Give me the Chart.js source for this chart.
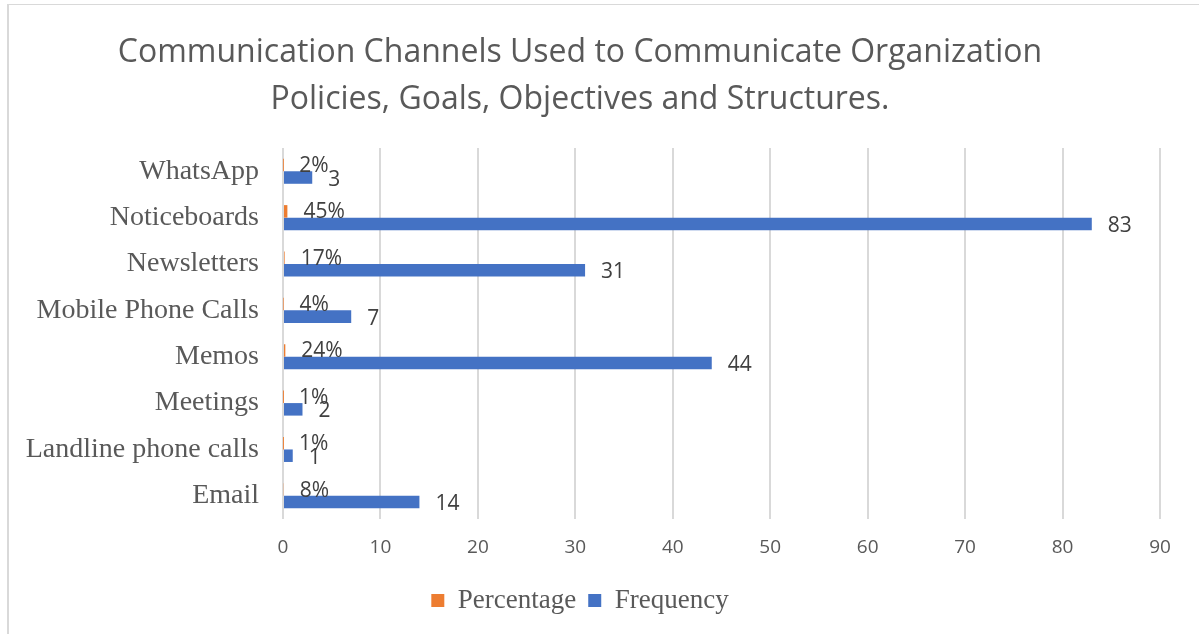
<!DOCTYPE html>
<html>
<head>
<meta charset="utf-8">
<script src="https://cdn.jsdelivr.net/npm/chart.js@4"></script>
<style>
  html, body { margin: 0; padding: 0; background: #fff; }
  #wrap { width: 1199px; height: 634px; position: relative; }
</style>
</head>
<body>
<div id="wrap"><canvas id="chart"></canvas></div>
<script>
// data (top row first)
const channels = ['WhatsApp', 'Noticeboards', 'Newsletters', 'Mobile Phone Calls', 'Memos', 'Meetings', 'Landline phone calls', 'Email'];
const percentage = [0.02, 0.45, 0.17, 0.04, 0.24, 0.01, 0.01, 0.08];
const frequency = [3, 83, 31, 7, 44, 2, 1, 14];
const xTicks = [0, 10, 20, 30, 40, 50, 60, 70, 80, 90];

const textGrey = '#595959';

// border of the chart box
const frame = {
    id: 'frame',
    beforeDraw(chart) {
        let ctx = chart.ctx;
        ctx.save();
        ctx.strokeStyle = '#d9d9d9';
        ctx.lineWidth = 1;
        ctx.beginPath();
        ctx.moveTo(7, 4.5);
        ctx.lineTo(chart.width, 4.5);
        ctx.stroke();
        ctx.lineWidth = 2;
        ctx.beginPath();
        ctx.moveTo(8, 4);
        ctx.lineTo(8, chart.height);
        ctx.stroke();
        ctx.restore();
    }
};

// value labels at the end of each bar
const barLabels = {
    id: 'barLabels',
    afterDatasetsDraw(chart) {
        let ctx = chart.ctx;
        ctx.save();
        ctx.font = '21px "Open Sans"';
        ctx.fillStyle = '#404040';
        ctx.textAlign = 'left';
        ctx.textBaseline = 'middle';
        chart.data.datasets.forEach((ds, i) => {
            let meta = chart.getDatasetMeta(i);
            meta.data.forEach((bar, j) => {
                let v = ds.data[j];
                let txt = i === 0 ? Math.round(v * 100) + '%' : String(v);
                let dy = i === 0 ? 1 : 2;
                ctx.fillText(txt, bar.x + 16, bar.y + dy);
            });
        });
        ctx.restore();
    }
};

new Chart(document.getElementById('chart').getContext('2d'), {
    type: 'bar',
    data: {
        labels: channels,
        datasets: [{
            label: 'Percentage',
            data: percentage,
            backgroundColor: '#ED7D31',
            categoryPercentage: 0.54,
            barPercentage: 1
        }, {
            label: 'Frequency',
            data: frequency,
            backgroundColor: '#4472C4',
            categoryPercentage: 0.54,
            barPercentage: 1
        }]
    },
    options: {
        indexAxis: 'y',
        responsive: true,
        maintainAspectRatio: false,
        animation: false,
        layout: {
            padding: { top: 5, right: 39, bottom: 10, left: 0 }
        },
        plugins: {
            title: {
                display: true,
                text: ['Communication Channels Used to Communicate Organization', 'Policies, Goals, Objectives and Structures.'],
                color: textGrey,
                font: { family: '"Open Sans"', size: 32, weight: 'normal', lineHeight: 1.47 },
                padding: { top: 24, bottom: 25 }
            },
            legend: {
                display: true,
                position: 'bottom',
                labels: {
                    color: textGrey,
                    font: { family: '"Liberation Serif"', size: 27 },
                    boxWidth: 13,
                    boxHeight: 13,
                    padding: 12
                }
            },
            tooltip: { enabled: false }
        },
        scales: {
            x: {
                min: 0,
                max: 90,
                afterBuildTicks: (axis) => { axis.ticks = xTicks.map(v => ({ value: v })); },
                grid: { color: '#d9d9d9', lineWidth: 2, drawTicks: false },
                border: { display: false },
                ticks: {
                    color: textGrey,
                    font: { family: '"Open Sans"', size: 19 },
                    padding: 17
                },
                afterFit: (axis) => { axis.height = 56; }
            },
            y: {
                grid: { display: false },
                border: { display: false },
                ticks: {
                    color: textGrey,
                    font: { family: '"Liberation Serif"', size: 28 },
                    padding: 16
                },
                afterFit: (axis) => { axis.width = 283; }
            }
        }
    },
    plugins: [frame, barLabels]
});
</script>
</body>
</html>
